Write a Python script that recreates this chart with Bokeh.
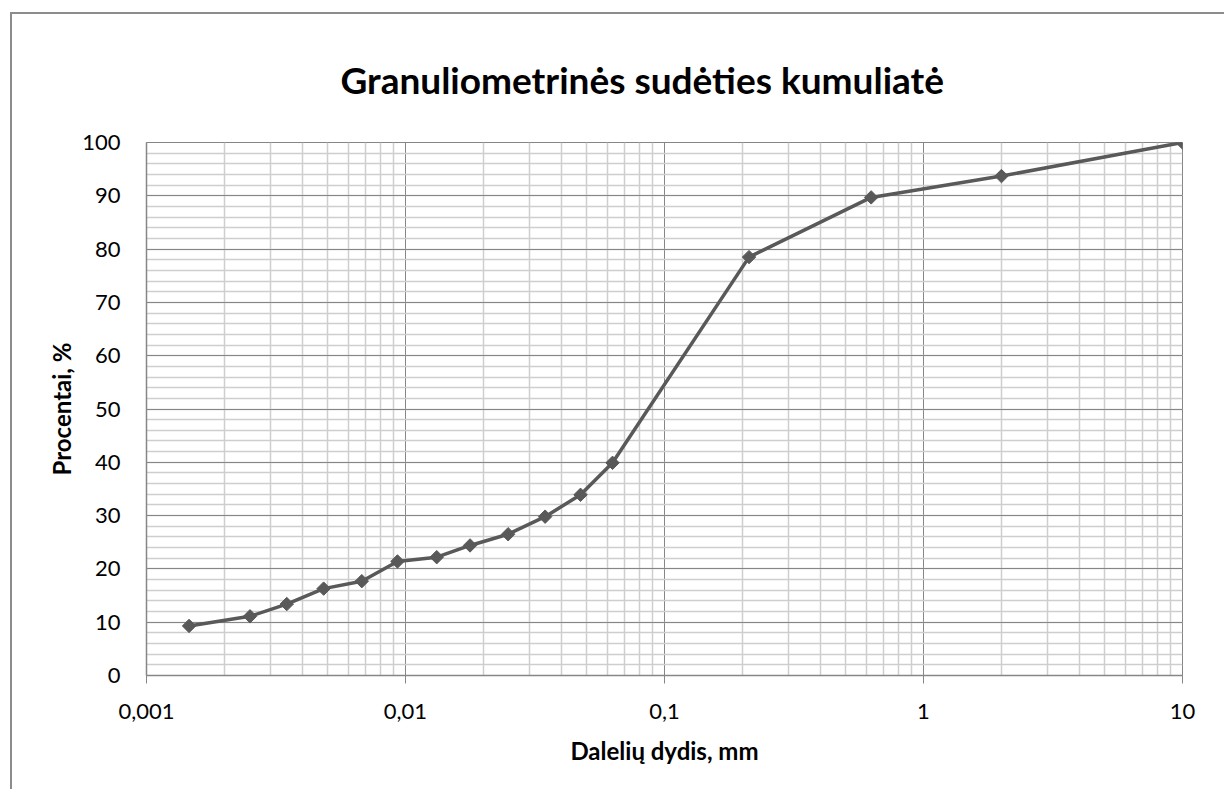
from bokeh.plotting import figure
from bokeh.models import FixedTicker, CustomJSTickFormatter, Title, SingleIntervalTicker
from bokeh.embed import file_html
from bokeh.resources import INLINE
import math

# Data
size_mm = [0.00146, 0.00251, 0.00348, 0.00483, 0.00678, 0.00931, 0.0132, 0.01775,
           0.0249, 0.0346, 0.0474, 0.063, 0.212, 0.628, 2.0, 10.0]
percent = [9.3, 11.1, 13.4, 16.3, 17.7, 21.4, 22.2, 24.4,
           26.5, 29.8, 33.9, 39.9, 78.5, 89.7, 93.7, 100.0]
x_ticks = [0.001, 0.01, 0.1, 1, 10]
y_ticks = [0, 10, 20, 30, 40, 50, 60, 70, 80, 90, 100]

title_text = "Granuliometrinės sudėties kumuliatė"
x_label = "Dalelių dydis, mm"
y_label = "Procentai, %"

FONT = "Lato"
MAJOR = "#868686"
MINOR = "#cecece"
SERIES = "#595959"

p = figure(width=1214, height=777, x_axis_type="log",
           x_range=(x_ticks[0], x_ticks[-1]), y_range=(y_ticks[0], y_ticks[-1]),
           output_backend="svg", toolbar_location=None,
           min_border_left=134, min_border_right=44, min_border_top=128, min_border_bottom=116)

t = Title(text=title_text, text_font=FONT, text_font_size="37px", text_font_style="bold",
          text_color="#000000", align="left", standoff=81, offset=194)
p.add_layout(t, "above")

minor_x = []
for k in range(len(x_ticks) - 1):
    for m in range(2, 10):
        minor_x.append(x_ticks[k] * m)

xt = FixedTicker(ticks=x_ticks, minor_ticks=minor_x)
p.xaxis.ticker = xt
p.xaxis.formatter = CustomJSTickFormatter(code="return String(tick).replace('.', ',');")
p.yaxis.ticker = SingleIntervalTicker(interval=10, num_minor_ticks=5)

for ax in (p.xaxis, p.yaxis):
    ax.axis_line_color = MAJOR
    ax.axis_line_width = 1.5
    ax.major_label_text_font = FONT
    ax.major_label_text_font_size = "22px"
    ax.major_label_text_color = "#000000"
    ax.axis_label_text_font = FONT
    ax.axis_label_text_font_size = "24px"
    ax.axis_label_text_font_style = "bold"
    ax.axis_label_text_color = "#000000"
    ax.minor_tick_line_color = None

p.xaxis.major_tick_line_color = MAJOR
p.xaxis.major_tick_out = 8
p.xaxis.major_tick_in = 0
p.xaxis.major_label_standoff = 20
p.xaxis.axis_label = x_label
p.xaxis.axis_label_standoff = 14

p.yaxis.major_tick_line_color = None
p.yaxis.major_label_standoff = 20
p.yaxis.axis_label = y_label
p.yaxis.axis_label_standoff = 3

p.xgrid.ticker = xt
p.xgrid.grid_line_color = MAJOR
p.xgrid.minor_grid_line_color = MINOR
p.xgrid.minor_grid_line_width = 1.5
p.ygrid.grid_line_color = MAJOR
p.ygrid.minor_grid_line_color = MINOR
p.ygrid.minor_grid_line_width = 1.5
p.outline_line_color = MAJOR

p.line(size_mm, percent, line_color=SERIES, line_width=3.5)
p.scatter(size_mm, percent, marker="square", angle=math.pi / 4, size=9.5,
          fill_color=SERIES, line_color=SERIES)

p.background_fill_color = "white"
p.border_fill_color = "white"
p.styles = {"margin-left": "10px", "margin-top": "12px",
            "border-left": "2px solid #8c8c8c", "border-top": "2px solid #8c8c8c"}

open("out.html", "w").write(file_html(p, INLINE))
